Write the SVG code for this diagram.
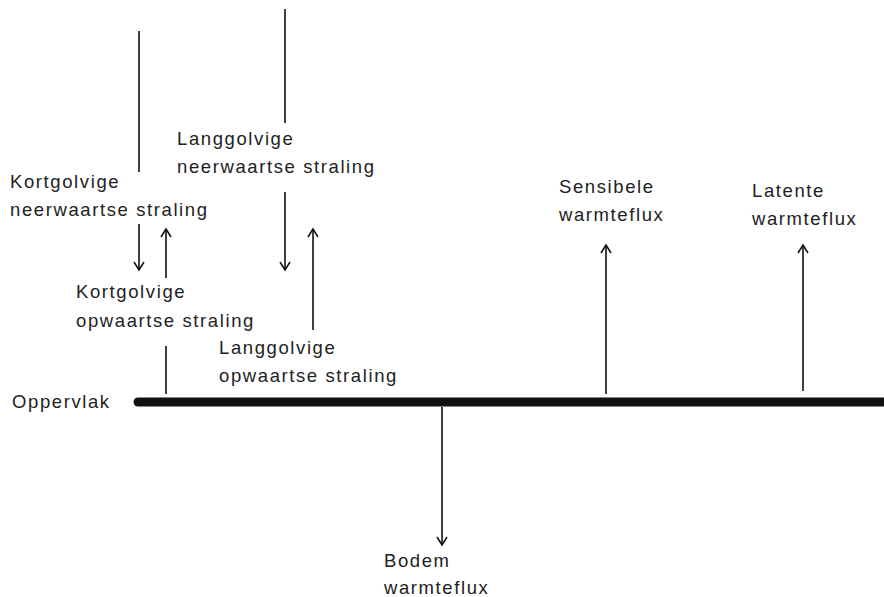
<svg xmlns="http://www.w3.org/2000/svg" width="884" height="597" viewBox="0 0 884 597">
<style>
text{font-family:"Liberation Sans",Arial,sans-serif;font-size:18.5px;letter-spacing:1.6px;fill:#222}
.ln{stroke:#111;stroke-width:1.6;fill:none}
.ar{stroke:#111;stroke-width:1.6;fill:none;marker-end:url(#h)}
</style>
<defs>
<marker id="h" markerUnits="userSpaceOnUse" viewBox="-10 -7 12 14" refX="0" refY="0" markerWidth="12" markerHeight="14" orient="auto">
<path d="M-8,-5 L0,0 L-8,5" stroke="#111" stroke-width="1.5" fill="none"/>
</marker>
</defs>
<rect width="884" height="597" fill="#fff"/>
<g id="surface">
<line x1="138" y1="402" x2="890" y2="402" stroke="#111" stroke-width="9" stroke-linecap="round"/>
<text x="12" y="408">Oppervlak</text>
</g>
<g id="connectors">
<line class="ln" x1="139" y1="31" x2="139" y2="172"/>
<line class="ln" x1="285" y1="9" x2="285" y2="123"/>
<line class="ln" x1="166" y1="346" x2="166" y2="394"/>
<line class="ar" x1="139" y1="224" x2="139" y2="270"/>
<line class="ar" x1="166" y1="278" x2="166" y2="229"/>
<line class="ar" x1="285" y1="192" x2="285" y2="270"/>
<line class="ar" x1="313" y1="330" x2="313" y2="229"/>
<line class="ar" x1="606" y1="394" x2="606" y2="245"/>
<line class="ar" x1="803" y1="391" x2="803" y2="245"/>
<line class="ar" x1="442" y1="407" x2="442" y2="545"/>
</g>
<g id="kort-neer">
<text x="10" y="188">Kortgolvige</text>
<text x="10" y="216">neerwaartse straling</text>
</g>
<g id="lang-neer">
<text x="177" y="145">Langgolvige</text>
<text x="177" y="173">neerwaartse straling</text>
</g>
<g id="kort-op">
<text x="76" y="298">Kortgolvige</text>
<text x="76" y="327">opwaartse straling</text>
</g>
<g id="lang-op">
<text x="219" y="354">Langgolvige</text>
<text x="219" y="382">opwaartse straling</text>
</g>
<g id="sensibel">
<text x="559" y="193">Sensibele</text>
<text x="559" y="221">warmteflux</text>
</g>
<g id="latent">
<text x="752" y="197">Latente</text>
<text x="752" y="225">warmteflux</text>
</g>
<g id="bodem">
<text x="384" y="567">Bodem</text>
<text x="384" y="594">warmteflux</text>
</g>
</svg>
